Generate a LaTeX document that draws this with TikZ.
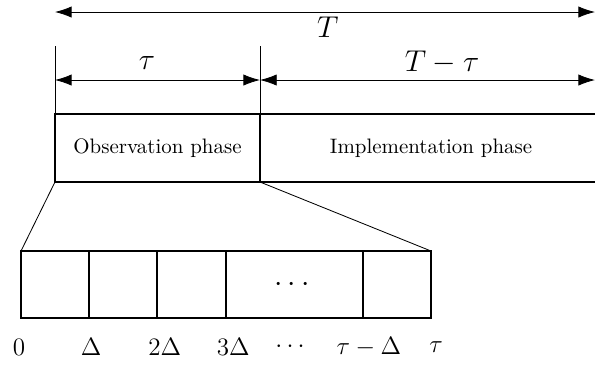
\documentclass[tikz,border=0pt]{standalone}
\usepackage{amsmath,amssymb}
\usetikzlibrary{arrows.meta,positioning,calc}

\begin{document}
\begin{tikzpicture}[
    phase/.style={draw,thick,minimum height=1.14cm,inner sep=0pt,outer sep=0pt,anchor=south west},
    slot/.style={draw,thick,minimum height=1.126cm,inner sep=0pt,outer sep=0pt,anchor=south west},
    lbl/.style={font=\Large},
    tick/.style={font=\large},
    span/.style={{Latex[length=2.8mm,width=1.9mm]}-{Latex[length=2.8mm,width=1.9mm]},thin}
]
    \useasboundingbox (0,0) rectangle (10,6.118);

    % Phases
    \node[phase,minimum width=3.446cm] (obs) at (0.924,3.059) {Observation phase};
    \node[phase,minimum width=5.75cm] (impl) at (4.37,3.059) {Implementation phase};

    % Spans above the phases
    \coordinate (a0) at (0.924,5.916);
    \coordinate (a1) at (10,5.916);
    \coordinate (t0) at ($(obs.north west)+(0,1.145)$);
    \coordinate (t1) at ($(obs.north east)+(0,1.145)$);
    \coordinate (m0) at (0.924,4.773);
    \coordinate (m1) at (obs.north east |- m0);
    \coordinate (m2) at (10,4.773);
    \draw[thin] (obs.north west) -- (t0);
    \draw[thin] (obs.north east) -- (t1);
    \draw[span] (a0) -- (a1);
    \draw[span] (m0) -- (m1);
    \draw[span] (m1) -- (m2);
    \node[lbl] (lT) at (5.51,5.66) {$T$};
    \node[lbl] (ltau) at (2.47,5.06) {$\tau$};
    \node[lbl] (lTt) at (7.43,5.06) {$T-\tau$};

    % Slots of the observation phase
    \foreach \n/\x/\w in {1/0.353/1.143, 2/1.496/1.143, 3/2.639/1.159, 4/3.798/2.302, 5/6.10/1.144} {
        \node[slot,minimum width=\w cm] (s\n) at (\x,0.773) {};
    }
    \node[lbl] (dots) at (s4) {$\cdots$};

    % Zoom lines
    \draw[thin] (obs.south west) -- (s1.north west);
    \draw[thin] (obs.south east) -- (s5.north east);

    % Time stamps
    \foreach \i/\x/\t in {0/0.32/0, 1/1.53/\Delta, 2/2.77/2\Delta, 3/3.92/3\Delta, 4/4.91/\cdots, 5/6.20/\tau-\Delta, 6/7.33/\tau} {
        \node[tick] (l\i) at (\x,0.28) {$\t$};
    }
\end{tikzpicture}
\end{document}
